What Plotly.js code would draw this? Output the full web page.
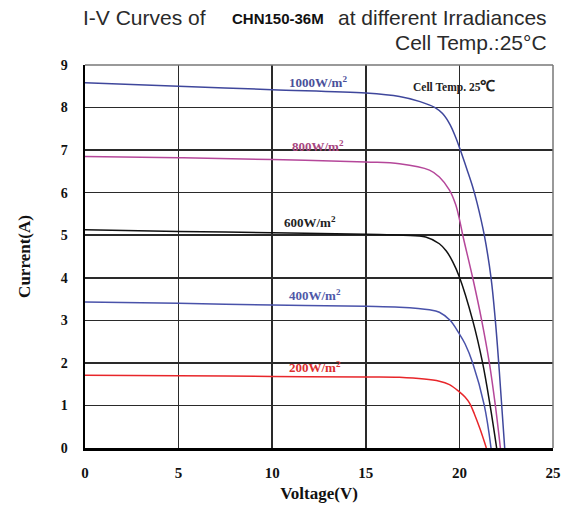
<!DOCTYPE html>
<html>
<head>
<meta charset="utf-8">
<script src="https://cdn.plot.ly/plotly-3.0.1.min.js"></script>
<style>html,body{margin:0;padding:0;background:#fff;}#chart{width:563px;height:510px;}</style>
</head>
<body>
<div id="chart"></div>
<script>
// Irradiance series (voltage V, current A)
const seriesNames = ["1000W/m<sup>2</sup>", "800W/m<sup>2</sup>", "600W/m<sup>2</sup>", "400W/m<sup>2</sup>", "200W/m<sup>2</sup>"];

const v1000 = [0, 5, 10, 15, 16.8, 17.9, 18.7, 19.1, 19.5, 19.8, 20.05, 20.4, 20.7, 20.95, 21.33, 21.69, 21.92, 22.1, 22.26, 22.42];
const i1000 = [8.58, 8.50, 8.42, 8.34, 8.26, 8.14, 8.0, 7.86, 7.6, 7.3, 7.0, 6.55, 6.15, 5.75, 5.0, 4.0, 3.0, 2.0, 1.0, 0];

const v800 = [0, 5, 10, 15, 16.8, 18.4, 18.93, 19.47, 19.8, 20.0, 20.18, 20.71, 21.19, 21.6, 21.92, 22.19];
const i800 = [6.85, 6.82, 6.78, 6.72, 6.68, 6.53, 6.37, 6.06, 5.72, 5.38, 5.0, 4.0, 3.0, 2.0, 1.0, 0];

const v600 = [0, 5, 10, 15, 17, 18.2, 18.93, 19.3, 19.64, 20.0, 20.71, 21.24, 21.64, 21.99];
const i600 = [5.13, 5.09, 5.06, 5.02, 5.0, 4.96, 4.8, 4.63, 4.38, 4.02, 3.0, 2.0, 1.0, 0];

const v400 = [0, 5, 10, 15, 16.8, 18.4, 18.93, 19.5, 20.0, 20.3, 20.71, 21.33, 21.69];
const i400 = [3.43, 3.40, 3.36, 3.33, 3.31, 3.25, 3.19, 3.0, 2.68, 2.45, 2.0, 1.0, 0];

const v200 = [0, 5, 10, 15, 16.8, 18.93, 19.47, 20.0, 20.3, 20.55, 20.8, 21.1, 21.44];
const i200 = [1.71, 1.70, 1.68, 1.67, 1.66, 1.57, 1.49, 1.32, 1.2, 1.05, 0.8, 0.45, 0];

const xTicks = [0, 5, 10, 15, 20, 25];
const yTicks = [0, 1, 2, 3, 4, 5, 6, 7, 8, 9];

// label anchor points (V, A)
const labelV = [12.43, 12.43, 12.0, 12.27, 12.27];
const labelI = [8.6, 7.1, 5.3, 3.6, 1.9];

const lineColors = ["#3f479c", "#b5479a", "#111111", "#4952aa", "#e8262a"];
const labelColors = ["#4a4f9a", "#a8467f", "#222222", "#5058a8", "#dc3030"];

const vs = [v1000, v800, v600, v400, v200];
const is = [i1000, i800, i600, i400, i200];

const traces = vs.map((v, k) => ({
  x: v, y: is[k], type: "scatter", mode: "lines",
  line: {color: lineColors[k], width: 1.5, shape: "spline", smoothing: 1},
  name: seriesNames[k], showlegend: false, hoverinfo: "skip"
}));

const serif = "'Liberation Serif', 'Times New Roman', serif";
const sans = "'Liberation Sans', Arial, sans-serif";
const L = 85, W = 468;
const px = p => (p - L) / W;

const annotations = seriesNames.map((n, k) => ({
  x: labelV[k], y: labelI[k], xref: "x", yref: "y", text: "<b>" + n + "</b>",
  showarrow: false, font: {family: serif, size: 13, color: labelColors[k]},
  xanchor: "center", yanchor: "middle"
}));

annotations.push({
  x: 19.73, y: 8.5, xref: "x", yref: "y",
  text: "<b>Cell Temp. 25</b><span style='font-size:15px'><b>℃</b></span>",
  showarrow: false, font: {family: serif, size: 11.5, color: "#222"},
  xanchor: "center", yanchor: "middle"
});

annotations.push(
  {x: px(81), y: 1.125, xref: "paper", yref: "paper", text: "I-V Curves of", showarrow: false,
   xanchor: "left", yanchor: "middle", font: {family: sans, size: 21, color: "#2a2a2a"}},
  {x: px(230), y: 1.122, xref: "paper", yref: "paper", text: "<b>CHN150-36M</b>", showarrow: false,
   xanchor: "left", yanchor: "middle", font: {family: sans, size: 15, color: "#111"}},
  {x: px(549), y: 1.125, xref: "paper", yref: "paper", text: "at different Irradiances", showarrow: false,
   xanchor: "right", yanchor: "middle", font: {family: sans, size: 21, color: "#2a2a2a"}},
  {x: px(549), y: 1.06, xref: "paper", yref: "paper", text: "Cell Temp.:25°C", showarrow: false,
   xanchor: "right", yanchor: "middle", font: {family: sans, size: 21, color: "#2a2a2a"}}
);

const layout = {
  width: 563, height: 510,
  margin: {l: L, r: 563 - L - W, t: 65, b: 61.5},
  paper_bgcolor: "#fff", plot_bgcolor: "#fff",
  showlegend: false,
  xaxis: {
    range: [0, 25], tickvals: xTicks, ticktext: xTicks.map(String),
    showgrid: true, gridcolor: "#2a2a2a", gridwidth: 1.5,
    zeroline: false, showline: true, linecolor: "#000", linewidth: 2.5,
    ticks: "", ticklabelstandoff: 9,
    tickfont: {family: serif, size: 15, color: "#111", weight: "bold"},
    title: {text: "<b>Voltage(V)</b>", font: {family: serif, size: 17, color: "#111"}, standoff: 8}
  },
  yaxis: {
    range: [0, 9], tickvals: yTicks, ticktext: yTicks.map(String),
    showgrid: true, gridcolor: "#2a2a2a", gridwidth: 1.5,
    zeroline: false, showline: true, linecolor: "#000", linewidth: 2.5,
    ticks: "", ticklabelstandoff: 12,
    tickfont: {family: serif, size: 14, color: "#111", weight: "bold"},
    title: {text: "<b>Current(A)</b>", font: {family: serif, size: 17, color: "#111"}, standoff: 26}
  },
  shapes: [
    {type: "line", xref: "paper", yref: "paper", x0: 0, x1: 1, y0: 1, y1: 1, line: {color: "#777", width: 1.5}},
    {type: "line", xref: "paper", yref: "paper", x0: 1, x1: 1, y0: 0, y1: 1, line: {color: "#777", width: 1.5}}
  ],
  annotations: annotations
};

Plotly.newPlot("chart", traces, layout, {displayModeBar: false, staticPlot: true});
</script>
</body>
</html>
